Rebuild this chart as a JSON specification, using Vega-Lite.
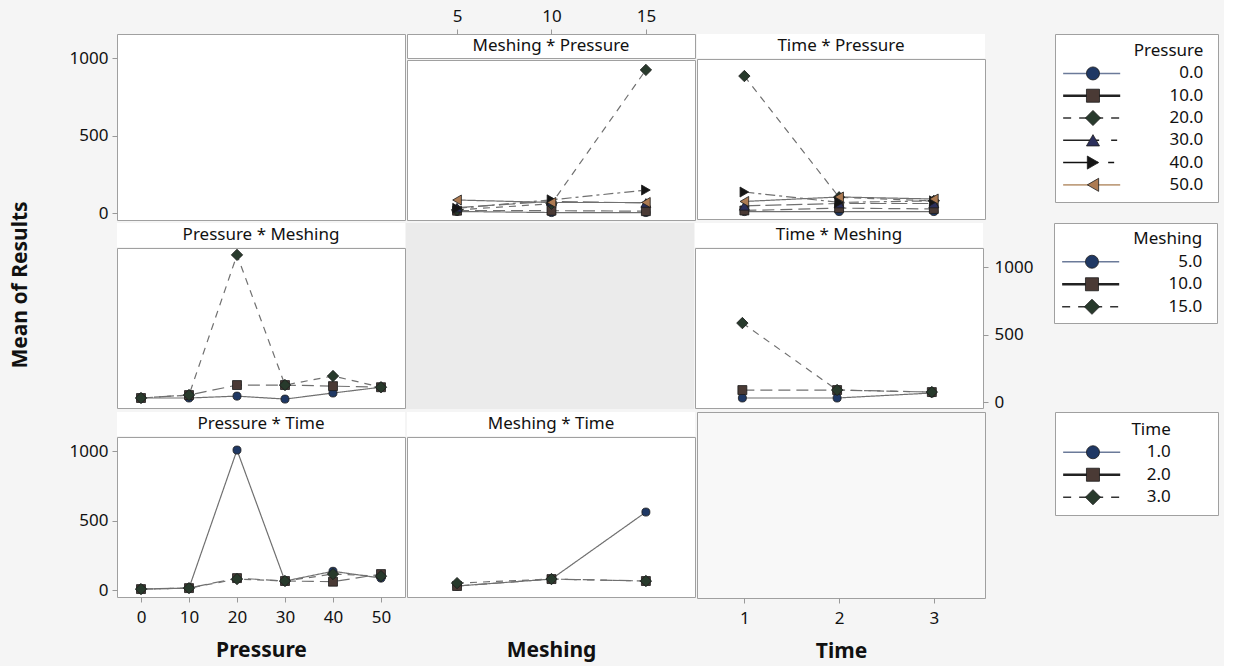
{
"$schema": "https://vega.github.io/schema/vega-lite/v6.json",
"background": "#f5f5f5",
"padding": {"left": 9, "top": 6, "right": 5, "bottom": 5},
"title": {"text": "Mean of Results", "orient": "left", "anchor": "middle", "offset": 38, "dx": 49, "fontSize": 21, "fontWeight": "bold", "font": "Noto Sans", "color": "#111"},
"config": {
  "font": "Noto Sans",
  "view": {"stroke": "#a0a0a0", "strokeWidth": 1},
  "axis": {"labelFont": "Noto Sans", "labelFontSize": 17, "labelColor": "#111", "tickColor": "#999", "tickSize": 5, "domain": false, "grid": false, "labelPadding": 4, "titleFont": "Noto Sans", "titleFontSize": 21, "titleFontWeight": "bold", "titleColor": "#111", "format": "d"},
  "text": {"font": "Noto Sans", "color": "#111"}
},
"datasets": {
  "meshing_pressure": [
    {"Meshing":5,"Pressure":"0.0","Mean":10},{"Meshing":10,"Pressure":"0.0","Mean":3},{"Meshing":15,"Pressure":"0.0","Mean":3},
    {"Meshing":5,"Pressure":"10.0","Mean":15},{"Meshing":10,"Pressure":"10.0","Mean":15},{"Meshing":15,"Pressure":"10.0","Mean":12},
    {"Meshing":5,"Pressure":"20.0","Mean":20},{"Meshing":10,"Pressure":"20.0","Mean":60},{"Meshing":15,"Pressure":"20.0","Mean":923},
    {"Meshing":5,"Pressure":"30.0","Mean":35},{"Meshing":10,"Pressure":"30.0","Mean":75},{"Meshing":15,"Pressure":"30.0","Mean":65},
    {"Meshing":5,"Pressure":"40.0","Mean":30},{"Meshing":10,"Pressure":"40.0","Mean":85},{"Meshing":15,"Pressure":"40.0","Mean":148},
    {"Meshing":5,"Pressure":"50.0","Mean":84},{"Meshing":10,"Pressure":"50.0","Mean":68},{"Meshing":15,"Pressure":"50.0","Mean":68}
  ],
  "time_pressure": [
    {"Time":1,"Pressure":"0.0","Mean":3},{"Time":2,"Pressure":"0.0","Mean":3},{"Time":3,"Pressure":"0.0","Mean":3},
    {"Time":1,"Pressure":"10.0","Mean":10},{"Time":2,"Pressure":"10.0","Mean":25},{"Time":3,"Pressure":"10.0","Mean":20},
    {"Time":1,"Pressure":"20.0","Mean":877},{"Time":2,"Pressure":"20.0","Mean":95},{"Time":3,"Pressure":"20.0","Mean":72},
    {"Time":1,"Pressure":"30.0","Mean":40},{"Time":2,"Pressure":"30.0","Mean":55},{"Time":3,"Pressure":"30.0","Mean":55},
    {"Time":1,"Pressure":"40.0","Mean":129},{"Time":2,"Pressure":"40.0","Mean":62},{"Time":3,"Pressure":"40.0","Mean":72},
    {"Time":1,"Pressure":"50.0","Mean":68},{"Time":2,"Pressure":"50.0","Mean":97},{"Time":3,"Pressure":"50.0","Mean":84}
  ],
  "pressure_meshing": [
    {"Pressure":0,"Meshing":"5.0","Mean":30},{"Pressure":10,"Meshing":"5.0","Mean":30},{"Pressure":20,"Meshing":"5.0","Mean":44},{"Pressure":30,"Meshing":"5.0","Mean":22},{"Pressure":40,"Meshing":"5.0","Mean":67},{"Pressure":50,"Meshing":"5.0","Mean":110},
    {"Pressure":0,"Meshing":"10.0","Mean":30},{"Pressure":10,"Meshing":"10.0","Mean":52},{"Pressure":20,"Meshing":"10.0","Mean":126},{"Pressure":30,"Meshing":"10.0","Mean":126},{"Pressure":40,"Meshing":"10.0","Mean":118},{"Pressure":50,"Meshing":"10.0","Mean":110},
    {"Pressure":0,"Meshing":"15.0","Mean":30},{"Pressure":10,"Meshing":"15.0","Mean":52},{"Pressure":20,"Meshing":"15.0","Mean":1090},{"Pressure":30,"Meshing":"15.0","Mean":126},{"Pressure":40,"Meshing":"15.0","Mean":193},{"Pressure":50,"Meshing":"15.0","Mean":110}
  ],
  "time_meshing": [
    {"Time":1,"Meshing":"5.0","Mean":30},{"Time":2,"Meshing":"5.0","Mean":30},{"Time":3,"Meshing":"5.0","Mean":67},
    {"Time":1,"Meshing":"10.0","Mean":89},{"Time":2,"Meshing":"10.0","Mean":89},{"Time":3,"Meshing":"10.0","Mean":74},
    {"Time":1,"Meshing":"15.0","Mean":585},{"Time":2,"Meshing":"15.0","Mean":89},{"Time":3,"Meshing":"15.0","Mean":74}
  ],
  "pressure_time": [
    {"Pressure":0,"Time":"1.0","Mean":7},{"Pressure":10,"Time":"1.0","Mean":14},{"Pressure":20,"Time":"1.0","Mean":1007},{"Pressure":30,"Time":"1.0","Mean":65},{"Pressure":40,"Time":"1.0","Mean":135},{"Pressure":50,"Time":"1.0","Mean":86},
    {"Pressure":0,"Time":"2.0","Mean":7},{"Pressure":10,"Time":"2.0","Mean":14},{"Pressure":20,"Time":"2.0","Mean":86},{"Pressure":30,"Time":"2.0","Mean":65},{"Pressure":40,"Time":"2.0","Mean":60},{"Pressure":50,"Time":"2.0","Mean":115},
    {"Pressure":0,"Time":"3.0","Mean":7},{"Pressure":10,"Time":"3.0","Mean":14},{"Pressure":20,"Time":"3.0","Mean":79},{"Pressure":30,"Time":"3.0","Mean":65},{"Pressure":40,"Time":"3.0","Mean":115},{"Pressure":50,"Time":"3.0","Mean":100}
  ],
  "meshing_time": [
    {"Meshing":5,"Time":"1.0","Mean":29},{"Meshing":10,"Time":"1.0","Mean":79},{"Meshing":15,"Time":"1.0","Mean":561},
    {"Meshing":5,"Time":"2.0","Mean":29},{"Meshing":10,"Time":"2.0","Mean":79},{"Meshing":15,"Time":"2.0","Mean":65},
    {"Meshing":5,"Time":"3.0","Mean":50},{"Meshing":10,"Time":"3.0","Mean":79},{"Meshing":15,"Time":"3.0","Mean":65}
  ],
  "legend_pressure": [
    {"label":"Pressure","kind":"title"},{"label":"0.0","kind":"item"},{"label":"10.0","kind":"item"},{"label":"20.0","kind":"item"},{"label":"30.0","kind":"item"},{"label":"40.0","kind":"item"},{"label":"50.0","kind":"item"}
  ],
  "legend_meshing": [
    {"label":"Meshing","kind":"title"},{"label":"5.0","kind":"item"},{"label":"10.0","kind":"item"},{"label":"15.0","kind":"item"}
  ],
  "legend_time": [
    {"label":"Time","kind":"title"},{"label":"1.0","kind":"item"},{"label":"2.0","kind":"item"},{"label":"3.0","kind":"item"}
  ]
},
"resolve": {"scale": {"color": "independent", "shape": "independent", "strokeDash": "independent"}},
"spacing": 0,
"vconcat": [
 {
  "hconcat": [
   {
    "hconcat": [
     {
      "width": 288, "height": 186,
      "data": {"name": "meshing_pressure"},
      "view": {"fill": "#ffffff"},
      "mark": {"type": "point", "opacity": 0},
      "encoding": {
        "y": {"field": "Mean", "type": "quantitative", "scale": {"domain": [-45, 1155], "nice": false, "zero": false}, "axis": {"orient": "left", "values": [0, 500, 1000], "title": null}}
      }
     },
     {
      "vconcat": [
       {
        "width": 288, "height": 24,
        "view": {"fill": "#ffffff"},
        "layer": [
          {"data": {"values": [{"title": "Meshing * Pressure"}]}, "mark": {"type": "text", "fontSize": 17, "baseline": "middle"}, "encoding": {"text": {"field": "title"}}},
          {"data": {"name": "meshing_pressure"}, "mark": {"type": "point", "opacity": 0}, "encoding": {"x": {"field": "Meshing", "type": "quantitative", "scale": {"domain": [2.35, 17.6], "nice": false, "zero": false}, "axis": {"orient": "top", "values": [5, 10, 15], "title": null}}}}
        ]
       },
       {
        "width": 288, "height": 160,
        "data": {"name": "meshing_pressure"},
        "view": {"fill": "#ffffff"},
        "encoding": {
          "x": {"field": "Meshing", "type": "quantitative", "scale": {"domain": [2.35, 17.6], "nice": false, "zero": false}, "axis": null},
          "y": {"field": "Mean", "type": "quantitative", "scale": {"domain": [-45, 987], "nice": false, "zero": false}, "axis": null}
        },
        "layer": [
          {"mark": {"type": "line", "color": "#707070", "strokeWidth": 1.2}, "encoding": {"detail": {"field": "Pressure"}, "strokeDash": {"field": "Pressure", "type": "nominal", "scale": {"domain": ["0.0","10.0","20.0","30.0","40.0","50.0"], "range": [[1,0],[12,6],[7,6],[16,5],[10,4,3,4],[1,0]]}, "legend": null}}},
          {"mark": {"type": "point", "filled": true, "opacity": 1, "stroke": "#1a1a1a", "strokeWidth": 0.8}, "encoding": {
            "color": {"field": "Pressure", "type": "nominal", "scale": {"domain": ["0.0","10.0","20.0","30.0","40.0","50.0"], "range": ["#1f3864","#4a3a35","#283a2c","#2b2f5c","#151515","#ad7b52"]}, "legend": null},
            "shape": {"field": "Pressure", "type": "nominal", "scale": {"domain": ["0.0","10.0","20.0","30.0","40.0","50.0"], "range": ["circle","square","diamond","triangle-up","triangle-right","triangle-left"]}, "legend": null},
            "size": {"condition": [{"test": "datum.Pressure === '0.0'", "value": 65}, {"test": "datum.Pressure === '10.0'", "value": 80}, {"test": "datum.Pressure === '20.0'", "value": 130}], "value": 100}
          }}
        ]
       }
      ],
      "spacing": 0,
      "resolve": {"scale": {"color": "independent", "shape": "independent", "strokeDash": "independent"}}
     },
     {
      "vconcat": [
       {
        "width": 288, "height": 24,
        "view": {"fill": "#ffffff"},
        "data": {"values": [{"title": "Time * Pressure"}]},
        "mark": {"type": "text", "fontSize": 17, "baseline": "middle"},
        "encoding": {"text": {"field": "title"}}
       },
       {
        "width": 288, "height": 160,
        "data": {"name": "time_pressure"},
        "view": {"fill": "#ffffff"},
        "encoding": {
          "x": {"field": "Time", "type": "quantitative", "scale": {"domain": [0.5, 3.54], "nice": false, "zero": false}, "axis": null},
          "y": {"field": "Mean", "type": "quantitative", "scale": {"domain": [-45, 987], "nice": false, "zero": false}, "axis": null}
        },
        "layer": [
          {"mark": {"type": "line", "color": "#707070", "strokeWidth": 1.2}, "encoding": {"detail": {"field": "Pressure"}, "strokeDash": {"field": "Pressure", "type": "nominal", "scale": {"domain": ["0.0","10.0","20.0","30.0","40.0","50.0"], "range": [[1,0],[12,6],[7,6],[16,5],[10,4,3,4],[1,0]]}, "legend": null}}},
          {"mark": {"type": "point", "filled": true, "opacity": 1, "stroke": "#1a1a1a", "strokeWidth": 0.8}, "encoding": {
            "color": {"field": "Pressure", "type": "nominal", "scale": {"domain": ["0.0","10.0","20.0","30.0","40.0","50.0"], "range": ["#1f3864","#4a3a35","#283a2c","#2b2f5c","#151515","#ad7b52"]}, "legend": null},
            "shape": {"field": "Pressure", "type": "nominal", "scale": {"domain": ["0.0","10.0","20.0","30.0","40.0","50.0"], "range": ["circle","square","diamond","triangle-up","triangle-right","triangle-left"]}, "legend": null},
            "size": {"condition": [{"test": "datum.Pressure === '0.0'", "value": 65}, {"test": "datum.Pressure === '10.0'", "value": 80}, {"test": "datum.Pressure === '20.0'", "value": 130}], "value": 100}
          }}
        ]
       }
      ],
      "spacing": 0,
      "resolve": {"scale": {"color": "independent", "shape": "independent", "strokeDash": "independent"}}
     }
    ],
    "spacing": 0,
    "resolve": {"scale": {"color": "independent", "shape": "independent", "strokeDash": "independent"}}
   },
   {
    "width": 163, "height": 168,
    "data": {"name": "legend_pressure"},
    "view": {"fill": "#ffffff"},
    "encoding": {
      "y": {"field": "label", "type": "ordinal", "scale": {"type": "point", "domain": ["Pressure","0.0","10.0","20.0","30.0","40.0","50.0"], "padding": 0.77}, "axis": null}
    },
    "layer": [
      {"transform": [{"filter": "datum.kind === 'item'"}], "mark": {"type": "rule"}, "encoding": {
        "x": {"datum": 5, "type": "quantitative", "scale": {"domain": [0, 100], "nice": false, "zero": false}, "axis": null},
        "x2": {"datum": 40},
        "color": {"field": "label", "type": "nominal", "scale": {"domain": ["0.0","10.0","20.0","30.0","40.0","50.0"], "range": ["#6b7a99","#222222","#333333","#222222","#111111","#c0a080"]}, "legend": null},
        "strokeDash": {"field": "label", "type": "nominal", "scale": {"domain": ["0.0","10.0","20.0","30.0","40.0","50.0"], "range": [[1,0],[1,0],[8,8],[36,12,6,20],[35,10,6,20],[1,0]]}, "legend": null},
        "strokeWidth": {"condition": {"test": "datum.label === '10.0'", "value": 2.6}, "value": 1.6}
      }},
      {"transform": [{"filter": "datum.kind === 'item'"}], "mark": {"type": "point", "filled": true, "opacity": 1, "stroke": "#1a1a1a", "strokeWidth": 0.8}, "encoding": {
        "x": {"datum": 23.3, "type": "quantitative"},
        "color": {"field": "label", "type": "nominal", "scale": {"domain": ["0.0","10.0","20.0","30.0","40.0","50.0"], "range": ["#1f3864","#4a3a35","#283a2c","#2b2f5c","#151515","#ad7b52"]}, "legend": null},
        "shape": {"field": "label", "type": "nominal", "scale": {"domain": ["0.0","10.0","20.0","30.0","40.0","50.0"], "range": ["circle","square","diamond","triangle-up","triangle-right","triangle-left"]}, "legend": null},
        "size": {"condition": {"test": "datum.label === '20.0'", "value": 230}, "value": 170}
      }},
      {"mark": {"type": "text", "align": "right", "baseline": "middle", "fontSize": 17}, "encoding": {
        "x": {"datum": 91, "type": "quantitative"},
        "text": {"field": "label"}
      }}
    ],
    "resolve": {"scale": {"color": "independent", "shape": "independent", "strokeDash": "independent"}}
   }
  ],
  "spacing": 68,
  "resolve": {"scale": {"color": "independent", "shape": "independent", "strokeDash": "independent"}}
 },
 {
  "hconcat": [
   {
    "hconcat": [
     {
      "vconcat": [
       {
        "width": 288, "height": 24,
        "view": {"fill": "#ffffff"},
        "data": {"values": [{"title": "Pressure * Meshing"}]},
        "mark": {"type": "text", "fontSize": 17, "baseline": "middle"},
        "encoding": {"text": {"field": "title"}}
       },
       {
        "width": 288, "height": 160,
        "data": {"name": "pressure_meshing"},
        "view": {"fill": "#ffffff"},
        "encoding": {
          "x": {"field": "Pressure", "type": "quantitative", "scale": {"domain": [-5, 55], "nice": false, "zero": false}, "axis": null},
          "y": {"field": "Mean", "type": "quantitative", "scale": {"domain": [-44, 1141], "nice": false, "zero": false}, "axis": null}
        },
        "layer": [
          {"mark": {"type": "line", "color": "#707070", "strokeWidth": 1.2}, "encoding": {"detail": {"field": "Meshing"}, "strokeDash": {"field": "Meshing", "type": "nominal", "scale": {"domain": ["5.0","10.0","15.0"], "range": [[1,0],[12,6],[7,6]]}, "legend": null}}},
          {"mark": {"type": "point", "filled": true, "opacity": 1, "stroke": "#1a1a1a", "strokeWidth": 0.8}, "encoding": {
            "color": {"field": "Meshing", "type": "nominal", "scale": {"domain": ["5.0","10.0","15.0"], "range": ["#1f3864","#4a3a35","#283a2c"]}, "legend": null},
            "shape": {"field": "Meshing", "type": "nominal", "scale": {"domain": ["5.0","10.0","15.0"], "range": ["circle","square","diamond"]}, "legend": null},
            "size": {"condition": [{"test": "datum.Meshing === '5.0'", "value": 65}, {"test": "datum.Meshing === '10.0'", "value": 80}], "value": 130}
          }}
        ]
       }
      ],
      "spacing": 0,
      "resolve": {"scale": {"color": "independent", "shape": "independent", "strokeDash": "independent"}}
     },
     {
      "width": 288, "height": 186,
      "data": {"values": [{"blank": ""}]},
      "view": {"fill": "#ebebeb"},
      "mark": {"type": "point", "opacity": 0}
     },
     {
      "vconcat": [
       {
        "width": 288, "height": 24,
        "view": {"fill": "#ffffff"},
        "data": {"values": [{"title": "Time * Meshing"}]},
        "mark": {"type": "text", "fontSize": 17, "baseline": "middle"},
        "encoding": {"text": {"field": "title"}}
       },
       {
        "width": 288, "height": 160,
        "data": {"name": "time_meshing"},
        "view": {"fill": "#ffffff"},
        "encoding": {
          "x": {"field": "Time", "type": "quantitative", "scale": {"domain": [0.5, 3.54], "nice": false, "zero": false}, "axis": null},
          "y": {"field": "Mean", "type": "quantitative", "scale": {"domain": [-44, 1141], "nice": false, "zero": false}, "axis": {"orient": "right", "values": [0, 500, 1000], "title": null, "labelPadding": 6}}
        },
        "layer": [
          {"mark": {"type": "line", "color": "#707070", "strokeWidth": 1.2}, "encoding": {"detail": {"field": "Meshing"}, "strokeDash": {"field": "Meshing", "type": "nominal", "scale": {"domain": ["5.0","10.0","15.0"], "range": [[1,0],[12,6],[7,6]]}, "legend": null}}},
          {"mark": {"type": "point", "filled": true, "opacity": 1, "stroke": "#1a1a1a", "strokeWidth": 0.8}, "encoding": {
            "color": {"field": "Meshing", "type": "nominal", "scale": {"domain": ["5.0","10.0","15.0"], "range": ["#1f3864","#4a3a35","#283a2c"]}, "legend": null},
            "shape": {"field": "Meshing", "type": "nominal", "scale": {"domain": ["5.0","10.0","15.0"], "range": ["circle","square","diamond"]}, "legend": null},
            "size": {"condition": [{"test": "datum.Meshing === '5.0'", "value": 65}, {"test": "datum.Meshing === '10.0'", "value": 80}], "value": 130}
          }}
        ]
       }
      ],
      "spacing": 0,
      "resolve": {"scale": {"color": "independent", "shape": "independent", "strokeDash": "independent"}}
     }
    ],
    "spacing": 0,
    "resolve": {"scale": {"color": "independent", "shape": "independent", "strokeDash": "independent"}}
   },
   {
    "width": 163, "height": 100,
    "data": {"name": "legend_meshing"},
    "view": {"fill": "#ffffff"},
    "encoding": {
      "y": {"field": "label", "type": "ordinal", "scale": {"type": "point", "domain": ["Meshing","5.0","10.0","15.0"], "padding": 0.72}, "axis": null}
    },
    "layer": [
      {"transform": [{"filter": "datum.kind === 'item'"}], "mark": {"type": "rule"}, "encoding": {
        "x": {"datum": 5, "type": "quantitative", "scale": {"domain": [0, 100], "nice": false, "zero": false}, "axis": null},
        "x2": {"datum": 40},
        "color": {"field": "label", "type": "nominal", "scale": {"domain": ["5.0","10.0","15.0"], "range": ["#6b7a99","#222222","#333333"]}, "legend": null},
        "strokeDash": {"field": "label", "type": "nominal", "scale": {"domain": ["5.0","10.0","15.0"], "range": [[1,0],[1,0],[8,8]]}, "legend": null},
        "strokeWidth": {"condition": {"test": "datum.label === '10.0'", "value": 2.6}, "value": 1.6}
      }},
      {"transform": [{"filter": "datum.kind === 'item'"}], "mark": {"type": "point", "filled": true, "opacity": 1, "stroke": "#1a1a1a", "strokeWidth": 0.8}, "encoding": {
        "x": {"datum": 23.3, "type": "quantitative"},
        "color": {"field": "label", "type": "nominal", "scale": {"domain": ["5.0","10.0","15.0"], "range": ["#1f3864","#4a3a35","#283a2c"]}, "legend": null},
        "shape": {"field": "label", "type": "nominal", "scale": {"domain": ["5.0","10.0","15.0"], "range": ["circle","square","diamond"]}, "legend": null},
        "size": {"condition": {"test": "datum.label === '15.0'", "value": 230}, "value": 170}
      }},
      {"mark": {"type": "text", "align": "right", "baseline": "middle", "fontSize": 17}, "encoding": {
        "x": {"datum": 91, "type": "quantitative"},
        "text": {"field": "label"}
      }}
    ],
    "resolve": {"scale": {"color": "independent", "shape": "independent", "strokeDash": "independent"}}
   }
  ],
  "spacing": 19,
  "resolve": {"scale": {"color": "independent", "shape": "independent", "strokeDash": "independent"}}
 },
 {
  "hconcat": [
   {
    "hconcat": [
     {
      "vconcat": [
       {
        "width": 288, "height": 24,
        "view": {"fill": "#ffffff"},
        "data": {"values": [{"title": "Pressure * Time"}]},
        "mark": {"type": "text", "fontSize": 17, "baseline": "middle"},
        "encoding": {"text": {"field": "title"}}
       },
       {
        "width": 288, "height": 160,
        "data": {"name": "pressure_time"},
        "view": {"fill": "#ffffff"},
        "encoding": {
          "x": {"field": "Pressure", "type": "quantitative", "scale": {"domain": [-5, 55], "nice": false, "zero": false}, "axis": {"orient": "bottom", "values": [0, 10, 20, 30, 40, 50], "title": "Pressure", "titlePadding": 14, "labelPadding": 7}},
          "y": {"field": "Mean", "type": "quantitative", "scale": {"domain": [-50, 1101], "nice": false, "zero": false}, "axis": {"orient": "left", "values": [0, 500, 1000], "title": null}}
        },
        "layer": [
          {"mark": {"type": "line", "color": "#707070", "strokeWidth": 1.2}, "encoding": {"detail": {"field": "Time"}, "strokeDash": {"field": "Time", "type": "nominal", "scale": {"domain": ["1.0","2.0","3.0"], "range": [[1,0],[12,6],[7,6]]}, "legend": null}}},
          {"mark": {"type": "point", "filled": true, "opacity": 1, "stroke": "#1a1a1a", "strokeWidth": 0.8}, "encoding": {
            "color": {"field": "Time", "type": "nominal", "scale": {"domain": ["1.0","2.0","3.0"], "range": ["#1f3864","#4a3a35","#283a2c"]}, "legend": null},
            "shape": {"field": "Time", "type": "nominal", "scale": {"domain": ["1.0","2.0","3.0"], "range": ["circle","square","diamond"]}, "legend": null},
            "size": {"condition": [{"test": "datum.Time === '1.0'", "value": 65}, {"test": "datum.Time === '2.0'", "value": 80}], "value": 130}
          }}
        ]
       }
      ],
      "spacing": 0,
      "resolve": {"scale": {"color": "independent", "shape": "independent", "strokeDash": "independent"}}
     },
     {
      "vconcat": [
       {
        "width": 288, "height": 24,
        "view": {"fill": "#ffffff"},
        "data": {"values": [{"title": "Meshing * Time"}]},
        "mark": {"type": "text", "fontSize": 17, "baseline": "middle"},
        "encoding": {"text": {"field": "title"}}
       },
       {
        "width": 288, "height": 160,
        "data": {"name": "meshing_time"},
        "view": {"fill": "#ffffff"},
        "encoding": {
          "x": {"field": "Meshing", "type": "quantitative", "scale": {"domain": [2.35, 17.6], "nice": false, "zero": false}, "axis": {"orient": "bottom", "values": [5, 10, 15], "title": "Meshing", "titlePadding": 14, "labelPadding": 7, "labelOpacity": 0, "tickOpacity": 0}},
          "y": {"field": "Mean", "type": "quantitative", "scale": {"domain": [-50, 1101], "nice": false, "zero": false}, "axis": null}
        },
        "layer": [
          {"mark": {"type": "line", "color": "#707070", "strokeWidth": 1.2}, "encoding": {"detail": {"field": "Time"}, "strokeDash": {"field": "Time", "type": "nominal", "scale": {"domain": ["1.0","2.0","3.0"], "range": [[1,0],[12,6],[7,6]]}, "legend": null}}},
          {"mark": {"type": "point", "filled": true, "opacity": 1, "stroke": "#1a1a1a", "strokeWidth": 0.8}, "encoding": {
            "color": {"field": "Time", "type": "nominal", "scale": {"domain": ["1.0","2.0","3.0"], "range": ["#1f3864","#4a3a35","#283a2c"]}, "legend": null},
            "shape": {"field": "Time", "type": "nominal", "scale": {"domain": ["1.0","2.0","3.0"], "range": ["circle","square","diamond"]}, "legend": null},
            "size": {"condition": [{"test": "datum.Time === '1.0'", "value": 65}, {"test": "datum.Time === '2.0'", "value": 80}], "value": 130}
          }}
        ]
       }
      ],
      "spacing": 0,
      "resolve": {"scale": {"color": "independent", "shape": "independent", "strokeDash": "independent"}}
     },
     {
      "width": 288, "height": 186,
      "data": {"name": "time_meshing"},
      "view": {"fill": "#f8f8f8"},
      "mark": {"type": "point", "opacity": 0},
      "encoding": {
        "x": {"field": "Time", "type": "quantitative", "scale": {"domain": [0.5, 3.54], "nice": false, "zero": false}, "axis": {"orient": "bottom", "values": [1, 2, 3], "title": "Time", "titlePadding": 14, "labelPadding": 7}}
      }
     }
    ],
    "spacing": 0,
    "resolve": {"scale": {"color": "independent", "shape": "independent", "strokeDash": "independent"}}
   },
   {
    "width": 163, "height": 103,
    "data": {"name": "legend_time"},
    "view": {"fill": "#ffffff"},
    "encoding": {
      "y": {"field": "label", "type": "ordinal", "scale": {"type": "point", "domain": ["Time","1.0","2.0","3.0"], "padding": 0.79}, "axis": null}
    },
    "layer": [
      {"transform": [{"filter": "datum.kind === 'item'"}], "mark": {"type": "rule"}, "encoding": {
        "x": {"datum": 5, "type": "quantitative", "scale": {"domain": [0, 100], "nice": false, "zero": false}, "axis": null},
        "x2": {"datum": 40},
        "color": {"field": "label", "type": "nominal", "scale": {"domain": ["1.0","2.0","3.0"], "range": ["#6b7a99","#222222","#333333"]}, "legend": null},
        "strokeDash": {"field": "label", "type": "nominal", "scale": {"domain": ["1.0","2.0","3.0"], "range": [[1,0],[1,0],[8,8]]}, "legend": null},
        "strokeWidth": {"condition": {"test": "datum.label === '2.0'", "value": 2.6}, "value": 1.6}
      }},
      {"transform": [{"filter": "datum.kind === 'item'"}], "mark": {"type": "point", "filled": true, "opacity": 1, "stroke": "#1a1a1a", "strokeWidth": 0.8}, "encoding": {
        "x": {"datum": 23.3, "type": "quantitative"},
        "color": {"field": "label", "type": "nominal", "scale": {"domain": ["1.0","2.0","3.0"], "range": ["#1f3864","#4a3a35","#283a2c"]}, "legend": null},
        "shape": {"field": "label", "type": "nominal", "scale": {"domain": ["1.0","2.0","3.0"], "range": ["circle","square","diamond"]}, "legend": null},
        "size": {"condition": {"test": "datum.label === '3.0'", "value": 230}, "value": 170}
      }},
      {"mark": {"type": "text", "align": "right", "baseline": "middle", "fontSize": 17}, "encoding": {
        "x": {"datum": 71, "type": "quantitative"},
        "text": {"field": "label"}
      }}
    ],
    "resolve": {"scale": {"color": "independent", "shape": "independent", "strokeDash": "independent"}}
   }
  ],
  "spacing": 68,
  "resolve": {"scale": {"color": "independent", "shape": "independent", "strokeDash": "independent"}}
 }
]
}
